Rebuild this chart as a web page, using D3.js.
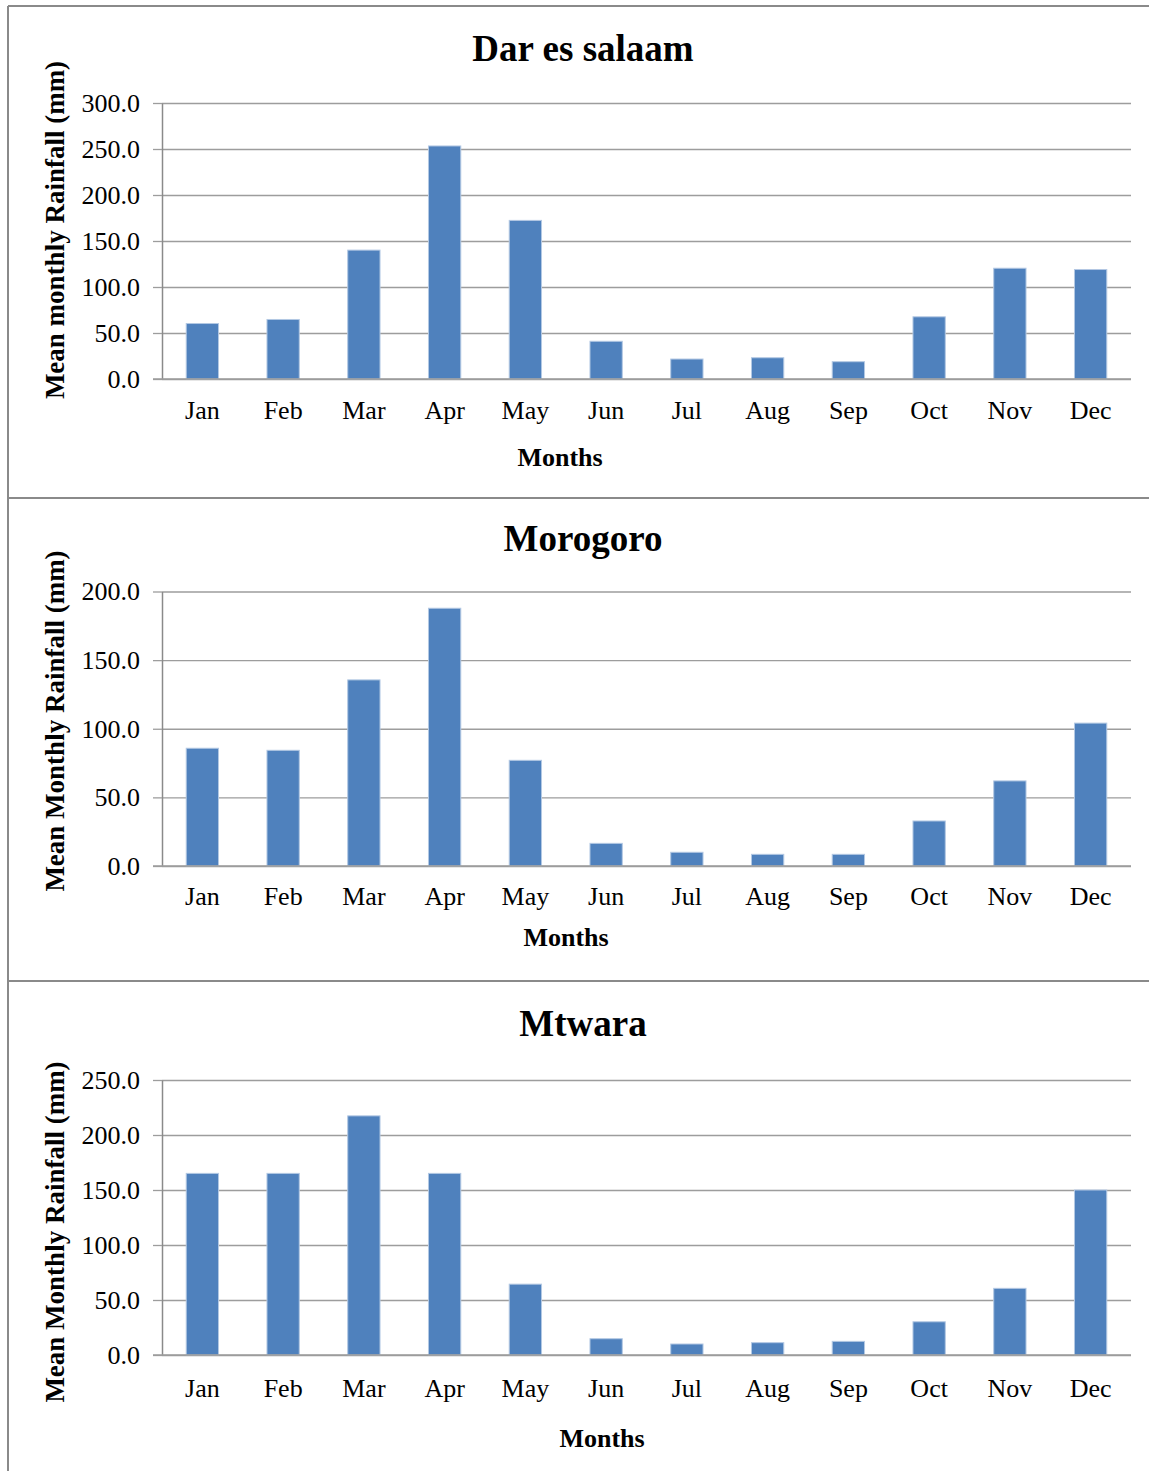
<!DOCTYPE html>
<html>
<head>
<meta charset="utf-8">
<script src="https://cdn.jsdelivr.net/npm/d3@7"></script>
<style>
  html, body { margin: 0; padding: 0; background: #fff; }
  svg { display: block; }
  text { font-family: "Liberation Serif", "Times New Roman", serif; fill: #000; }
</style>
</head>
<body>
<svg id="chart" width="1149" height="1471"></svg>
<script>
// ---- Data ----
const months = ["Jan","Feb","Mar","Apr","May","Jun","Jul","Aug","Sep","Oct","Nov","Dec"];
const darValues = [60.3, 64.7, 140.1, 253.3, 172.4, 41.0, 21.7, 23.1, 18.8, 67.6, 120.4, 119.0];
const moroValues = [85.8, 84.3, 135.6, 187.8, 77.0, 16.5, 10.0, 8.5, 8.5, 32.8, 62.0, 104.1];
const mtwValues = [165.1, 165.1, 217.4, 165.1, 64.4, 14.8, 10.0, 11.2, 12.4, 30.2, 60.6, 150.0];
const darTicks = [0, 50, 100, 150, 200, 250, 300];
const moroTicks = [0, 50, 100, 150, 200];
const mtwTicks = [0, 50, 100, 150, 200, 250];
const titles = ["Dar es salaam", "Morogoro", "Mtwara"];
const yTitles = ["Mean monthly Rainfall (mm)", "Mean Monthly Rainfall (mm)", "Mean Monthly Rainfall (mm)"];
const xTitle = "Months";

// ---- Layout ----
const svg = d3.select("#chart");
const plotLeft = 162, plotRight = 1131;

const panels = [
  { values: darValues, ticks: darTicks, max: 300, top: 103, bottom: 379,
    titleY: 61, yTitleY: 230, monthDy: 40, xTitleX: 560, xTitleY: 466 },
  { values: moroValues, ticks: moroTicks, max: 200, top: 591.5, bottom: 866,
    titleY: 551, yTitleY: 721, monthDy: 39, xTitleX: 566, xTitleY: 946 },
  { values: mtwValues, ticks: mtwTicks, max: 250, top: 1080, bottom: 1355,
    titleY: 1036, yTitleY: 1232, monthDy: 42, xTitleX: 602, xTitleY: 1447 }
];

// frame
const frameColor = "#8a8a8a";
svg.append("line").attr("x1", 8).attr("x2", 8).attr("y1", 6).attr("y2", 1471)
  .attr("stroke", frameColor).attr("stroke-width", 2);
[6, 498, 981].forEach(y => {
  svg.append("line").attr("x1", 8).attr("x2", 1149).attr("y1", y).attr("y2", y)
    .attr("stroke", frameColor).attr("stroke-width", 2);
});

const x = d3.scaleBand().domain(months).range([plotLeft, plotRight])
  .paddingInner(0.6).paddingOuter(0.3);

panels.forEach((p, i) => {
  const y = d3.scaleLinear().domain([0, p.max]).range([p.bottom, p.top]);
  const g = svg.append("g");

  // gridlines
  g.append("g").attr("transform", `translate(${plotLeft},0)`)
    .call(d3.axisLeft(y).tickValues(p.ticks).tickSize(-(plotRight - plotLeft)).tickFormat(""))
    .call(s => s.select(".domain").remove())
    .call(s => s.selectAll("line").attr("stroke", "#9d9d9d").attr("stroke-width", 1.3));

  // y axis with small ticks and labels
  g.append("g").attr("transform", `translate(${plotLeft},0)`)
    .call(d3.axisLeft(y).tickValues(p.ticks).tickSizeInner(9).tickSizeOuter(0)
      .tickPadding(13).tickFormat(d3.format(".1f")))
    .call(s => s.select(".domain").attr("stroke", "#8a8a8a").attr("stroke-width", 1.5))
    .call(s => s.selectAll("line").attr("stroke", "#9d9d9d").attr("stroke-width", 1.3))
    .call(s => s.selectAll("text").style("font-size", "26px")
      .style("font-family", '"Liberation Serif", "Times New Roman", serif').attr("fill", "#000"));

  // bars
  g.selectAll("rect.bar").data(p.values).join("rect")
    .attr("class", "bar")
    .attr("x", (d, j) => x(months[j]))
    .attr("width", x.bandwidth())
    .attr("y", d => y(d))
    .attr("height", d => y(0) - y(d))
    .attr("fill", "#4f81bd")
    .attr("stroke", "#b3c8e3")
    .attr("stroke-width", 1);

  // baseline
  g.append("line").attr("x1", plotLeft - 9).attr("x2", plotRight)
    .attr("y1", y(0)).attr("y2", y(0))
    .attr("stroke", "#9d9d9d").attr("stroke-width", 1.5);

  // x axis labels
  g.append("g").attr("transform", `translate(0,${p.bottom})`)
    .call(d3.axisBottom(x).tickSize(0).tickPadding(0))
    .call(s => s.select(".domain").remove())
    .call(s => s.selectAll("text").attr("y", p.monthDy).attr("dy", null)
      .style("font-size", "26px")
      .style("font-family", '"Liberation Serif", "Times New Roman", serif').attr("fill", "#000"));

  // chart title
  svg.append("text").attr("x", 583).attr("y", p.titleY)
    .attr("text-anchor", "middle").style("font-size", "37px").style("font-weight", "bold")
    .text(titles[i]);

  // y title
  svg.append("text")
    .attr("transform", `translate(64,${p.yTitleY}) rotate(-90)`)
    .attr("text-anchor", "middle").style("font-size", "27px").style("font-weight", "bold")
    .text(yTitles[i]);

  // x title
  svg.append("text").attr("x", p.xTitleX).attr("y", p.xTitleY)
    .attr("text-anchor", "middle").style("font-size", "26px").style("font-weight", "bold")
    .text(xTitle);
});
</script>
</body>
</html>
